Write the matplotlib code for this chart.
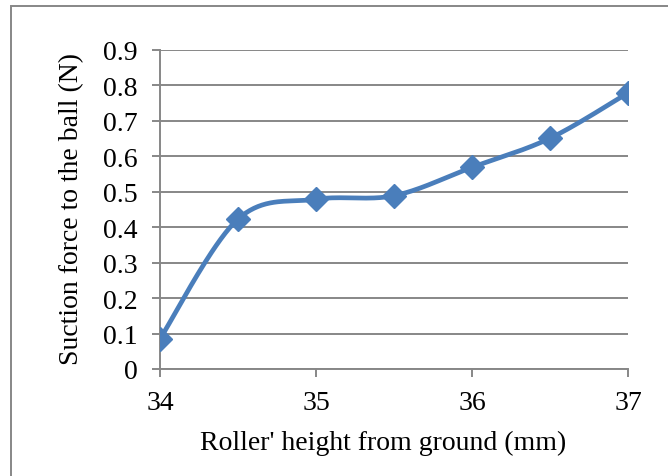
import numpy as np
import matplotlib
matplotlib.use('Agg')
import matplotlib.pyplot as plt
from matplotlib.patches import Rectangle

# data
heights = [34, 34.5, 35, 35.5, 36, 36.5, 37]
forces = [0.085, 0.423, 0.479, 0.489, 0.569, 0.651, 0.779]
x_ticks = [34, 35, 36, 37]
y_ticks = [0, 0.1, 0.2, 0.3, 0.4, 0.5, 0.6, 0.7, 0.8, 0.9]


def smooth(xs, ys, n=40):
    # Excel-like smoothed line: cubic bezier per segment (Catmull-Rom tangents)
    pts = np.column_stack([xs, ys]).astype(float)
    out = []
    for i in range(len(pts) - 1):
        p0 = pts[i - 1] if i > 0 else pts[i]
        p1 = pts[i]
        p2 = pts[i + 1]
        p3 = pts[i + 2] if i + 2 < len(pts) else pts[i + 1]
        c1 = p1 + (p2 - p0) / 6.0
        c2 = p2 - (p3 - p1) / 6.0
        t = np.linspace(0, 1, n)[:, None]
        seg = ((1 - t) ** 3) * p1 + 3 * ((1 - t) ** 2) * t * c1 \
            + 3 * (1 - t) * t ** 2 * c2 + t ** 3 * p2
        out.append(seg if i == 0 else seg[1:])
    out = np.vstack(out)
    return out[:, 0], out[:, 1]


plt.rcParams['font.family'] = ['Liberation Serif', 'DejaVu Serif']

W, H = 668, 477
fig = plt.figure(figsize=(W / 100, H / 100), dpi=100)
ax = fig.add_axes([160 / W, (H - 370) / H, (628 - 160) / W, (370 - 51) / H])

gray = '#878787'
blue = '#4a7ebb'

sx, sy = smooth(heights, forces)
ax.plot(sx, sy, color=blue, lw=3.4, solid_capstyle='round', zorder=3)
ax.plot(heights, forces, ls='none', marker='D', ms=12, color=blue, zorder=4)

ax.set_xlim(34, 37)
ax.set_ylim(0, 0.9)
ax.set_xticks(x_ticks)
ax.set_xticklabels([str(v) for v in x_ticks])
ax.set_yticks(y_ticks)
ax.set_yticklabels(['0'] + ['%.1f' % v for v in y_ticks[1:]])
ax.yaxis.grid(True, color=gray, lw=1.4)
ax.set_axisbelow(True)

for s in ['top', 'right']:
    ax.spines[s].set_visible(False)
for s in ['left', 'bottom']:
    ax.spines[s].set_color(gray)
    ax.spines[s].set_linewidth(1.4)

ax.tick_params(axis='both', colors=gray, labelcolor='black', labelsize=20,
               length=6, width=1.4, direction='out')
ax.tick_params(axis='x', pad=9)
ax.tick_params(axis='y', pad=10)

ax.set_xlabel("Roller' height from ground (mm)", fontsize=20, labelpad=11)
ax.xaxis.label.set_x(0.4765)
ax.set_ylabel('Suction force to the ball (N)', fontsize=20, labelpad=14)
ax.yaxis.label.set_y(0.506)

# outer chart border (only left and top visible in the crop)
fig.patches.append(Rectangle((11 / W, -0.1), 1.2, (H - 7) / H + 0.1,
                             transform=fig.transFigure, fill=False,
                             edgecolor=gray, lw=1.4))

fig.savefig('out.png', dpi=100)
